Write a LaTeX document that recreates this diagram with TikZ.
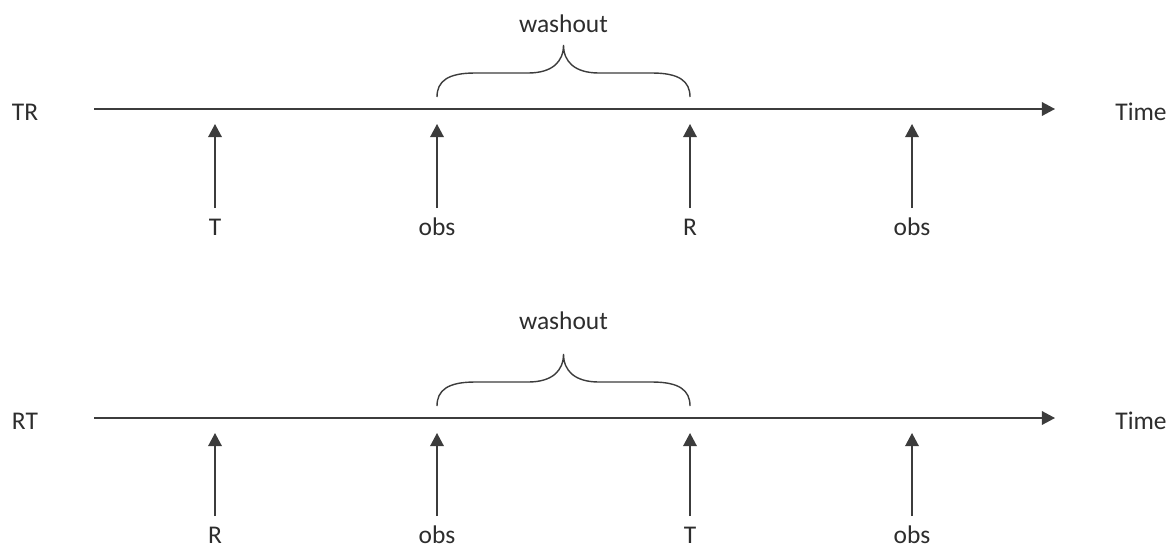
\documentclass[tikz,border=0pt]{standalone}
\usepackage{fontspec}
\setmainfont{Carlito}
\usepackage{tikz}
\usetikzlibrary{positioning,arrows.meta}
\definecolor{InkGray}{RGB}{45,45,45}
\definecolor{LineGray}{RGB}{60,60,60}

\begin{document}
\begin{tikzpicture}[
font=\fontsize{14.5}{17}\selectfont,
text=InkGray,
axis/.style={-{Triangle[length=7.5pt, width=7.8pt]}, line width=0.8pt, draw=LineGray},
tick/.style={-{Triangle[length=7.5pt, width=7.8pt]}, line width=0.8pt, draw=LineGray},
lbl/.style={inner xsep=0pt, inner ysep=0.22cm, text height=9pt, text depth=0pt, anchor=north},
seq/.style={inner sep=0pt, anchor=center},
brace/.style={line width=0.8pt, draw=LineGray}
]
\useasboundingbox (0,0) rectangle (23.42,-10.96);

% first sequence: TR
\node[seq] (tr) at (0.50,-2.24) {TR};
\coordinate (trs) at (1.88,-2.18);
\coordinate (tre) at (21.10,-2.18);
\node[seq] (trtime) at (22.82,-2.24) {Time};
\draw[axis] (trs) -- (tre);

\coordinate (tr1) at (4.30,-2.48);
\coordinate (tr2) at (8.74,-2.48);
\coordinate (tr3) at (13.80,-2.48);
\coordinate (tr4) at (18.24,-2.48);
\node[lbl, below=1.68cm of tr1] (trT) {T};
\node[lbl, below=1.68cm of tr2] (trobsa) {obs};
\node[lbl, below=1.68cm of tr3] (trR) {R};
\node[lbl, below=1.68cm of tr4] (trobsb) {obs};
\draw[tick] (trT.north) -- (tr1);
\draw[tick] (trobsa.north) -- (tr2);
\draw[tick] (trR.north) -- (tr3);
\draw[tick] (trobsb.north) -- (tr4);

\draw[brace] (8.74,-1.94) .. controls (8.74,-1.62) and (8.96,-1.46) .. (9.50,-1.46)
  -- (10.56,-1.46) .. controls (11.04,-1.46) and (11.27,-1.24) .. (11.27,-0.90)
  .. controls (11.27,-1.24) and (11.50,-1.46) .. (11.98,-1.46)
  -- (13.04,-1.46) .. controls (13.58,-1.46) and (13.80,-1.62) .. (13.80,-1.94);
\node[anchor=base, inner sep=0pt] (trwash) at (11.27,-0.64) {washout};

% second sequence: RT
\node[seq] (rt) at (0.50,-8.42) {RT};
\coordinate (rts) at (1.88,-8.36);
\coordinate (rte) at (21.10,-8.36);
\node[seq] (rttime) at (22.82,-8.42) {Time};
\draw[axis] (rts) -- (rte);

\coordinate (rt1) at (4.30,-8.66);
\coordinate (rt2) at (8.74,-8.66);
\coordinate (rt3) at (13.80,-8.66);
\coordinate (rt4) at (18.24,-8.66);
\node[lbl, below=1.66cm of rt1] (rtR) {R};
\node[lbl, below=1.66cm of rt2] (rtobsa) {obs};
\node[lbl, below=1.66cm of rt3] (rtT) {T};
\node[lbl, below=1.66cm of rt4] (rtobsb) {obs};
\draw[tick] (rtR.north) -- (rt1);
\draw[tick] (rtobsa.north) -- (rt2);
\draw[tick] (rtT.north) -- (rt3);
\draw[tick] (rtobsb.north) -- (rt4);

\draw[brace] (8.74,-8.12) .. controls (8.74,-7.80) and (8.96,-7.64) .. (9.50,-7.64)
  -- (10.56,-7.64) .. controls (11.04,-7.64) and (11.27,-7.42) .. (11.27,-7.08)
  .. controls (11.27,-7.42) and (11.50,-7.64) .. (11.98,-7.64)
  -- (13.04,-7.64) .. controls (13.58,-7.64) and (13.80,-7.80) .. (13.80,-8.12);
\node[anchor=base, inner sep=0pt] (rtwash) at (11.27,-6.58) {washout};
\end{tikzpicture}
\end{document}
